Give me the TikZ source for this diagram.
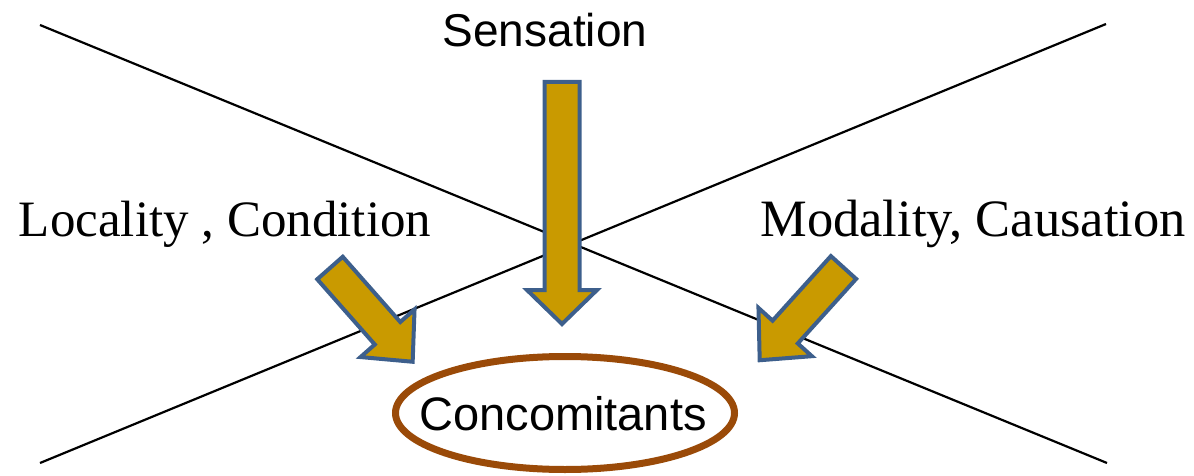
\documentclass[tikz,border=0pt]{standalone}
\usepackage{fontspec}
\setmainfont{Liberation Serif}
\newfontfamily\pixsans{Liberation Sans}
\usetikzlibrary{shapes.geometric}
\definecolor{arrfill}{HTML}{C99A00}
\definecolor{arrline}{HTML}{3D5F8C}
\definecolor{ellline}{HTML}{9A4A08}
\tikzset{
  bigarrow/.style={draw=arrline, fill=arrfill, line width=4pt, line join=miter},
  crossline/.style={draw=black, line width=2.2pt},
  serlabel/.style={font=\fontsize{51}{60}\selectfont, inner sep=0pt, anchor=base},
  sanlabel/.style={font=\pixsans\fontsize{46}{55}\selectfont, inner sep=0pt, anchor=base},
}
\begin{document}
\begin{tikzpicture}[x=1pt,y=-1pt]
\useasboundingbox (0,0) rectangle (1194,476);
% crossing lines
\coordinate (a1) at (40,25);
\coordinate (a2) at (1107,463);
\coordinate (b1) at (1106,24);
\coordinate (b2) at (40,463);
\draw[crossline] (a1) -- (a2);
\draw[crossline] (b1) -- (b2);
% labels
\node[sanlabel] (sens) at (545,47) {Sensation};
\node[serlabel] (loc) at (225,236) {Locality , Condition};
\node[serlabel, font=\fontsize{52.5}{60}\selectfont] (mod) at (973,236) {Modality, Causation};
% ellipse
\node[draw=ellline, line width=7pt, ellipse, minimum width=339pt, minimum height=113pt, inner sep=0pt] (conc) at (565,413) {};
\node[sanlabel, font=\pixsans\fontsize{47}{55}\selectfont] (conctext) at (563,430) {Concomitants};
% arrows (tail at origin, pointing along +x)
\draw[bigarrow, shift={(562,82)}, rotate=-90]
  (0,-17.5) -- (208,-17.5) -- (208,-35) -- (242,0) -- (208,35) -- (208,17.5) -- (0,17.5) -- cycle;
\draw[bigarrow, shift={(330,268)}, rotate=-48.6]
  (0,-17) -- (87,-17) -- (87,-36) -- (125,0) -- (87,36) -- (87,17) -- (0,17) -- cycle;
\draw[bigarrow, shift={(843.5,267.5)}, rotate=-132.1]
  (0,-17) -- (87,-17) -- (87,-36) -- (125,0) -- (87,36) -- (87,17) -- (0,17) -- cycle;
\end{tikzpicture}
\end{document}
